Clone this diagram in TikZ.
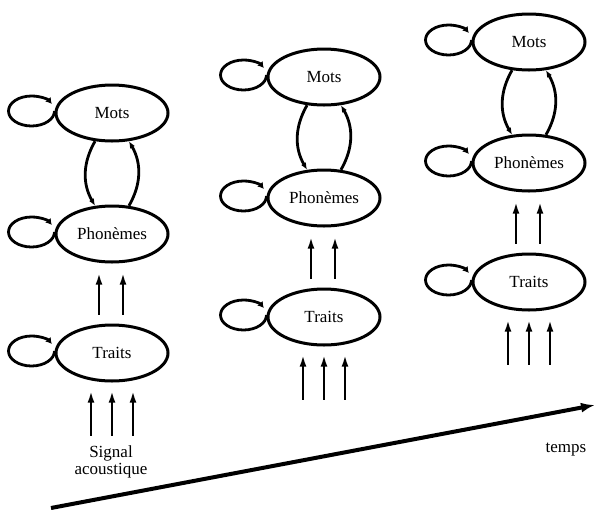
\documentclass[tikz,border=0pt]{standalone}
\usepackage{fontspec}
\setmainfont{Liberation Serif}
\usetikzlibrary{arrows.meta,shapes.geometric}

\begin{document}
\begin{tikzpicture}[x=0.5pt,y=0.5pt,
        etat/.style={draw,ellipse,line width=1.5pt,minimum width=56pt,minimum height=28pt,inner sep=0pt,font=\fontsize{8.5}{10}\selectfont},
        boucle/.style={line width=1.4pt,-{Latex[length=3pt,width=3.6pt]}},
        lien/.style={line width=1.4pt,-{Latex[length=3.5pt,width=2.8pt]}},
        fleche/.style={line width=1.4pt,-{Latex[length=6pt,width=3.4pt]}},
        texte/.style={font=\fontsize{8.5}{8.5}\selectfont,align=center}]
        \useasboundingbox (0,0) rectangle (596,-510);

        \foreach \i/\x/\y in {1/112/113, 2/324/77, 3/529/42} {
            \node[etat] (mots\i) at (\x,-\y) {Mots};
            \node[etat] (phon\i) at (\x,-\y-121) {Phonèmes};
            \node[etat] (traits\i) at (\x,-\y-240) {Traits};
            \foreach \n in {mots,phon,traits}
                \draw[boucle] ([yshift=1pt]\n\i.west) arc[start angle=0,end angle=-332,x radius=23,y radius=15];
            \draw[lien] (mots\i.239) to[bend right=30] (phon\i.121);
            \draw[lien] (phon\i.59) to[bend right=30] (mots\i.301);
            \foreach \d in {-6.5,5.5}
                \draw[fleche] ([xshift=\d pt,yshift=4.5pt]traits\i.north) -- ([xshift=\d pt,yshift=-4.5pt]phon\i.south);
            \foreach \d in {-10.5,0,10.5}
                \draw[fleche] ([xshift=\d pt,yshift=-26.5pt]traits\i.south) -- ([xshift=\d pt,yshift=-4pt]traits\i.south);
        }

        \node[texte] (signal) at (111,-462) {Signal\\acoustique};
        \node[texte] (temps) at (566,-450) {temps};
        \coordinate (debut) at (51,-508);
        \coordinate (fin) at (595,-405);
        \draw[line width=2pt,-{Latex[length=7pt,width=5pt]}] (debut) -- (fin);
\end{tikzpicture}
\end{document}
